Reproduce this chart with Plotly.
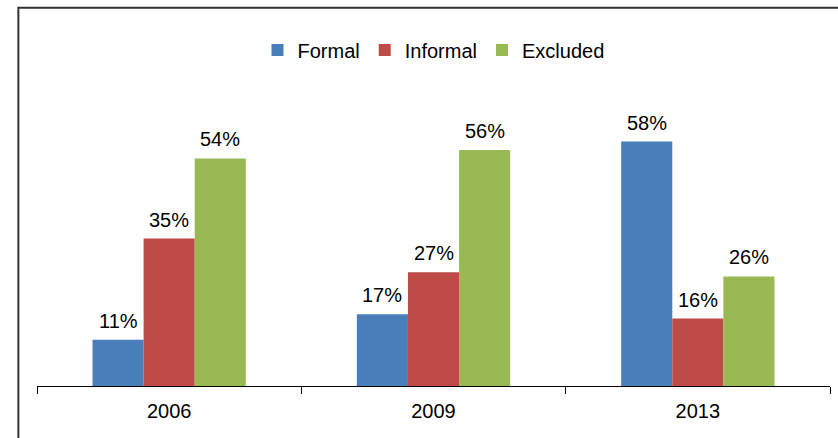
import plotly.graph_objects as go

years = ["2006", "2009", "2013"]
formal = [11, 17, 58]
informal = [35, 27, 16]
excluded = [54, 56, 26]

series = [("Formal", formal, "#4A7EBB"),
          ("Informal", informal, "#BE4B48"),
          ("Excluded", excluded, "#98B954")]

BARGAP = 0.42
FONT = "Liberation Sans, Arial, Helvetica, sans-serif"

fig = go.Figure()
annotations = []
w = (1 - BARGAP) / len(series)
for j, (name, vals, col) in enumerate(series):
    fig.add_trace(go.Bar(
        x=years, y=vals, name=name,
        marker=dict(color=col, line=dict(width=0)),
    ))
    for i, v in enumerate(vals):
        annotations.append(dict(
            x=i + (j - (len(series) - 1) / 2) * w, y=v, xref="x", yref="y",
            text=f"{v}%", showarrow=False, yanchor="bottom", yshift=6,
            font=dict(size=20, color="black", family=FONT)))

fig.update_layout(
    width=838, height=438,
    margin=dict(l=37, r=8, t=91, b=52),
    paper_bgcolor="white", plot_bgcolor="white",
    font=dict(family=FONT, size=20, color="black"),
    barmode="group", bargap=BARGAP, bargroupgap=0,
    showlegend=True,
    legend=dict(orientation="h", x=0.5, xanchor="center", y=1.139, yanchor="middle",
                font=dict(size=20), itemwidth=30, traceorder="normal",
                bgcolor="rgba(0,0,0,0)"),
    xaxis=dict(type="category", showline=True, linecolor="black", linewidth=1,
               ticks="outside", tickson="boundaries", ticklen=7, tickcolor="black",
               showgrid=False, tickfont=dict(size=20), range=[-0.5, 2.5],
               ticklabelstandoff=7),
    yaxis=dict(range=[0, 70], visible=False, showgrid=False, zeroline=False),
    annotations=annotations,
    shapes=[dict(type="rect", xref="paper", yref="paper",
                 x0=-0.0235, x1=1.1, y0=-0.4, y1=1.2825,
                 line=dict(color="#333333", width=2), fillcolor="rgba(0,0,0,0)",
                 layer="below")],
)

fig.write_html("out.html")
